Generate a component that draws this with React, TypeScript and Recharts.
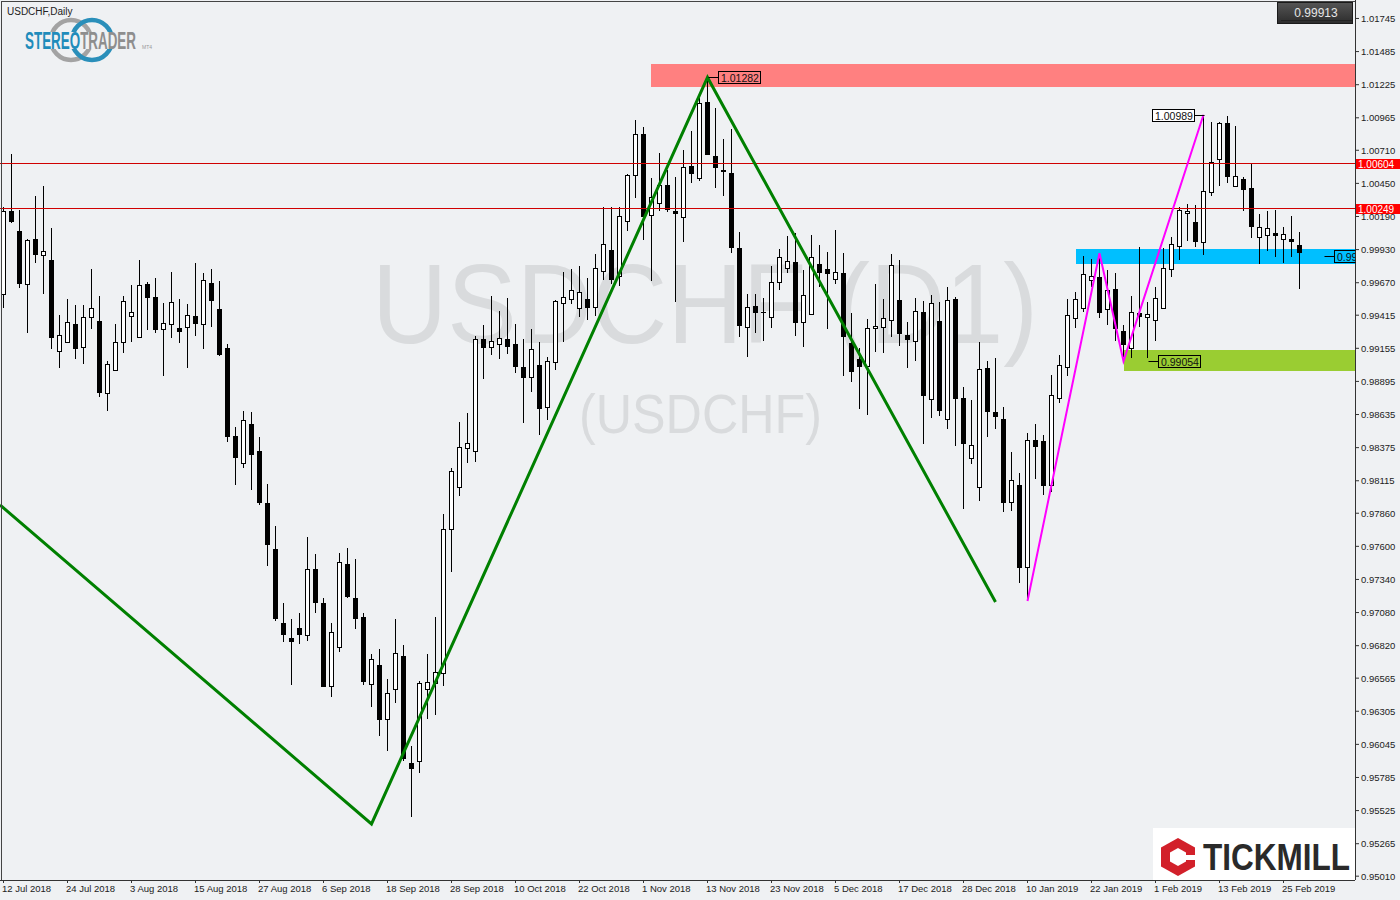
import React from 'react';
import {
  ComposedChart,
  Bar,
  Line,
  XAxis,
  YAxis,
  ReferenceArea,
  ReferenceLine,
  ReferenceDot,
} from 'recharts';

// USDCHF daily candles, 12 Jul 2018 .. 27 Feb 2019 (163 bars)
const opens = [
  0.99582, 1.00234, 1.00077, 0.99658, 1.00014, 0.99886, 0.99849, 0.99131, 0.99202, 0.99346,
  0.99163, 0.99398, 0.99367, 0.98802, 0.98984, 0.99202, 0.99406, 0.99247, 0.9966, 0.99556,
  0.99309, 0.99348, 0.99314, 0.99324, 0.99408, 0.99343, 0.99668, 0.99463, 0.99157, 0.98466,
  0.98252, 0.98561, 0.98349, 0.97938, 0.97579, 0.96996, 0.96878, 0.96957, 0.96902, 0.9742,
  0.97153, 0.96502, 0.96808, 0.97459, 0.97194, 0.97043, 0.96518, 0.96666, 0.96242, 0.9648,
  0.96739, 0.95902, 0.95915, 0.9648, 0.9653, 0.96604, 0.97736, 0.98069, 0.9837, 0.98351,
  0.9923, 0.99168, 0.99189, 0.99226, 0.99186, 0.99006, 0.98928, 0.99024, 0.98692, 0.9905,
  0.99508, 0.99541, 0.99469, 0.99541, 0.99481, 0.99765, 0.99927, 0.99726, 1.00155, 1.00516,
  1.00838, 1.00202, 1.00294, 1.00438, 1.00234, 1.00184, 1.00587, 1.0049, 1.01089, 1.00665,
  1.00555, 1.0053, 0.99941, 0.9932, 0.99487, 0.9944, 0.99398, 0.99674, 0.99784, 0.99836,
  0.99359, 0.99422, 0.99818, 0.99776, 0.99698, 0.99749, 0.99194, 0.99069, 0.99019, 0.99312,
  0.99324, 0.99377, 0.99534, 0.99259, 0.9921, 0.9944, 0.98755, 0.99367, 0.98597, 0.99543,
  0.98765, 0.98291, 0.98069, 0.99, 0.98652, 0.986, 0.97951, 0.98082, 0.97436, 0.98435,
  0.98427, 0.98082, 0.98762, 0.99008, 0.9939, 0.99469, 0.9969, 0.99714, 0.99461, 0.99619,
  0.99291, 0.99155, 0.9943, 0.99403, 0.99377, 0.99474, 0.99776, 0.99961, 1.00216, 1.00145,
  0.99993, 1.00385, 1.00639, 1.00922, 1.0043, 1.00482, 1.00413, 1.00027, 1.00045, 1.00059,
  1.00011, 1.00011, 0.99964,
];
const highs = [
  1.00267, 1.00681, 1.00242, 1.00011, 1.00351, 1.0043, 1.001, 0.99416, 0.99543, 0.99495,
  0.99495, 0.99778, 0.99566, 0.99055, 0.99346, 0.99566, 0.99652, 0.99849, 0.99674, 0.99705,
  0.99508, 0.99755, 0.99543, 0.995, 0.99825, 0.99747, 0.99778, 0.99684, 0.99189, 0.98537,
  0.98663, 0.98655, 0.98458, 0.98089, 0.97758, 0.97153, 0.97027, 0.97075, 0.97671, 0.97538,
  0.97194, 0.97001, 0.97546, 0.97587, 0.97501, 0.97077, 0.96755, 0.96794, 0.96559, 0.9703,
  0.96826, 0.96035, 0.96543, 0.96755, 0.97048, 0.97854, 0.98218, 0.98574, 0.98645, 0.99251,
  0.99338, 0.99566, 0.99448, 0.9955, 0.99346, 0.99228, 0.99306, 0.99207, 0.99089, 0.99534,
  0.99753, 0.99778, 0.99804, 0.99705, 0.99896, 1.00267, 1.00263, 1.00263, 1.00522, 1.00948,
  1.00895, 1.0049, 1.00687, 1.00555, 1.00503, 1.00712, 1.00862, 1.01118, 1.01282, 1.0104,
  1.00799, 1.00875, 1.00066, 0.99582, 0.99585, 0.99553, 0.99802, 0.99933, 1.00037, 1.00059,
  0.9977, 1.00045, 0.99967, 0.9991, 1.00084, 0.99902, 0.9943, 0.99155, 0.99385, 0.9966,
  0.99543, 0.99896, 0.99849, 0.99364, 0.9955, 0.99529, 0.99574, 0.99516, 0.99635, 0.99561,
  0.98849, 0.98749, 0.99204, 0.99055, 0.99079, 0.98694, 0.98341, 0.98178, 0.9849, 0.98561,
  0.98474, 0.98945, 0.99102, 0.99543, 0.99594, 0.9988, 0.99857, 0.99902, 0.9977, 0.99744,
  0.99338, 0.99569, 0.99949, 0.99521, 0.99635, 0.99941, 1.00032, 1.00263, 1.00289, 1.00281,
  1.00989, 1.00935, 1.00932, 1.00979, 1.00901, 1.00503, 1.00608, 1.00208, 1.00234, 1.00242,
  1.0011, 1.00192, 1.00066,
];
const lows = [
  0.99471, 1.00142, 0.99627, 0.99273, 0.99828, 0.9958, 0.99152, 0.99003, 0.99196, 0.99073,
  0.9903, 0.99309, 0.98775, 0.98665, 0.9898, 0.99116, 0.99207, 0.99243, 0.99298, 0.99277,
  0.9894, 0.99238, 0.99199, 0.99003, 0.99251, 0.99152, 0.99324, 0.99097, 0.98422, 0.98081,
  0.98218, 0.98042, 0.97925, 0.97448, 0.97017, 0.96852, 0.96512, 0.96831, 0.9686, 0.97079,
  0.96498, 0.96416, 0.96773, 0.97197, 0.96951, 0.96512, 0.96341, 0.96114, 0.95996, 0.9637,
  0.95915, 0.95472, 0.95819, 0.96242, 0.96276, 0.96504, 0.97401, 0.97998, 0.98252, 0.98265,
  0.98916, 0.99102, 0.99071, 0.9911, 0.98964, 0.98568, 0.98815, 0.98474, 0.98592, 0.98984,
  0.99202, 0.995, 0.99398, 0.99377, 0.99408, 0.99692, 0.9966, 0.99648, 1.00077, 1.00333,
  1.00006, 0.9968, 1.00236, 1.00223, 0.99521, 0.99993, 1.00451, 1.00472, 1.00673, 1.00417,
  1.00351, 0.99907, 0.99241, 0.99084, 0.99277, 0.99214, 0.99312, 0.99613, 0.99749, 0.99254,
  0.99168, 0.99415, 0.99639, 0.99304, 0.99658, 0.9894, 0.98893, 0.98676, 0.98631, 0.99128,
  0.99116, 0.99241, 0.99173, 0.98998, 0.99059, 0.98404, 0.9861, 0.98626, 0.98519, 0.98391,
  0.97893, 0.98249, 0.97959, 0.98461, 0.98524, 0.97872, 0.97878, 0.97315, 0.97171, 0.98129,
  0.98003, 0.9803, 0.98723, 0.9894, 0.99317, 0.99442, 0.99639, 0.99395, 0.99338, 0.99214,
  0.99054, 0.99077, 0.9932, 0.99077, 0.99214, 0.99469, 0.99718, 0.99849, 1.00001, 0.99954,
  0.99888, 1.00351, 1.0043, 1.00451, 1.00428, 1.00234, 1.00019, 0.99815, 0.99922, 0.99875,
  0.99828, 0.99875, 0.99619,
];
const closes = [
  1.00234, 1.00158, 0.99671, 1.00009, 0.99894, 0.9992, 0.99246, 0.99257, 0.99359, 0.9916,
  0.99398, 0.99469, 0.98815, 0.99029, 0.99202, 0.99524, 0.99437, 0.9965, 0.99554, 0.99309,
  0.99351, 0.99516, 0.99293, 0.99414, 0.99356, 0.9969, 0.99537, 0.99113, 0.98469, 0.98304,
  0.98592, 0.98328, 0.97946, 0.97616, 0.9704, 0.96914, 0.9686, 0.9691, 0.9742, 0.97166,
  0.96506, 0.96926, 0.9748, 0.97213, 0.9704, 0.96539, 0.96714, 0.96242, 0.96447, 0.96761,
  0.95936, 0.95858, 0.96527, 0.96535, 0.96614, 0.97736, 0.98192, 0.98378, 0.98411, 0.9923,
  0.99168, 0.99215, 0.99236, 0.99176, 0.99019, 0.98928, 0.99147, 0.98684, 0.99055, 0.99526,
  0.99557, 0.99612, 0.99596, 0.99477, 0.99784, 0.99972, 0.99698, 1.00192, 1.00516, 1.00838,
  1.00197, 1.00341, 1.00438, 1.00249, 1.0022, 1.00577, 1.00535, 1.01079, 1.00684, 1.00577,
  1.00547, 0.99954, 0.99338, 0.99481, 0.99437, 0.99437, 0.99674, 0.9987, 0.99839, 0.99359,
  0.99572, 0.9987, 0.99757, 0.99745, 0.99753, 0.99254, 0.98979, 0.99019, 0.99312, 0.99327,
  0.9939, 0.9981, 0.99273, 0.9923, 0.99445, 0.98791, 0.99508, 0.98673, 0.99532, 0.98763,
  0.98414, 0.98396, 0.9899, 0.98665, 0.98626, 0.97951, 0.98119, 0.9744, 0.98433, 0.9839,
  0.98082, 0.98788, 0.99024, 0.99414, 0.99541, 0.99737, 0.99721, 0.99442, 0.99613, 0.99312,
  0.99186, 0.99442, 0.99411, 0.99422, 0.99553, 0.99784, 0.99974, 1.00242, 1.00234, 1.00001,
  1.0039, 1.00616, 1.00928, 1.00508, 1.00506, 1.00404, 1.00118, 1.00106, 1.00098, 1.00048,
  1.00051, 1.00001, 0.99913,
];

const dateLabels = [
  '12 Jul 2018', '24 Jul 2018', '3 Aug 2018', '15 Aug 2018', '27 Aug 2018', '6 Sep 2018',
  '18 Sep 2018', '28 Sep 2018', '10 Oct 2018', '22 Oct 2018', '1 Nov 2018', '13 Nov 2018',
  '23 Nov 2018', '5 Dec 2018', '17 Dec 2018', '28 Dec 2018', '10 Jan 2019', '22 Jan 2019',
  '1 Feb 2019', '13 Feb 2019', '25 Feb 2019',
];
const dateTicks = dateLabels.map((_, k) => k * 8);

const priceTicks = [
  1.01745, 1.01485, 1.01225, 1.00965, 1.0071, 1.0045, 1.0019, 0.9993, 0.9967, 0.99415,
  0.99155, 0.98895, 0.98635, 0.98375, 0.98115, 0.9786, 0.976, 0.9734, 0.9708, 0.9682,
  0.96565, 0.96305, 0.96045, 0.95785, 0.95525, 0.95265, 0.9501,
];

// drawn waves (bar index, price)
const greenWave = [
  { i: -0.4375, v: 0.97925 },
  { i: 46, v: 0.9542 },
  { i: 88, v: 1.01282 },
  { i: 124, v: 0.97163 },
];
const pinkWave = [
  { i: 128, v: 0.97171 },
  { i: 137, v: 0.99902 },
  { i: 140, v: 0.99054 },
  { i: 150, v: 1.00989 },
];

const candles = opens.map((o, i) => ({
  i,
  open: o,
  high: highs[i],
  low: lows[i],
  close: closes[i],
  range: [lows[i], highs[i]],
}));

const FONT = "'Liberation Sans', Arial, sans-serif";

const Candle = (props: any) => {
  const { x, y, width, height, payload } = props;
  if (!payload || x == null) return null;
  const { open, close, high, low } = payload;
  const top = Math.min(y, y + height);
  const h = Math.abs(height);
  const span = high - low;
  const toY = (v: number) => (span > 0 ? top + ((high - v) / span) * h : top);
  const cx = Math.round(x + width / 2 - 0.5) + 0.5;
  const yo = toY(open);
  const yc = toY(close);
  const bTop = Math.round(Math.min(yo, yc)) + 0.5;
  const bBot = Math.round(Math.max(yo, yc)) + 0.5;
  const up = close >= open;
  return (
    <g>
      <line x1={cx} x2={cx} y1={Math.round(top)} y2={Math.round(top + h)} stroke="#000" strokeWidth={1} />
      {bBot - bTop < 1 ? (
        <line x1={cx - 2.5} x2={cx + 2.5} y1={bTop} y2={bTop} stroke="#000" strokeWidth={1} />
      ) : (
        <rect x={cx - 2} y={bTop} width={4} height={bBot - bTop} fill={up ? '#fff' : '#000'} stroke="#000" strokeWidth={1} />
      )}
    </g>
  );
};

const DateTick = (props: any) => {
  const { x, y, payload } = props;
  return (
    <text x={x - 1.5} y={y + 7} fontSize={9.5} fill="#222" fontFamily={FONT} textAnchor="start">
      {dateLabels[Math.round(payload.value / 8)]}
    </text>
  );
};

const PriceTick = (props: any) => {
  const { x, y, payload } = props;
  return (
    <text x={x} y={y + 3.5} fontSize={9.5} fill="#222" fontFamily={FONT} textAnchor="start">
      {Number(payload.value).toFixed(5)}
    </text>
  );
};

const AxisTag = (props: any) => {
  const { viewBox, text } = props;
  if (!viewBox) return null;
  const x = viewBox.x + viewBox.width + 1;
  const y = Math.round(viewBox.y);
  return (
    <g>
      <rect x={x} y={y - 5} width={44} height={10} fill="#FF0000" />
      <text x={x + 2} y={y + 4} fill="#fff" fontSize={10} fontFamily={FONT}>
        {text}
      </text>
    </g>
  );
};

// small price boxes attached to chart points
const PriceBox = (props: any) => {
  const { cx, cy, text, side, fill, clipW } = props;
  if (cx == null) return null;
  const px = Math.round(cx) + 0.5;
  const py = Math.round(cy) + 0.5;
  const bw = 42;
  const bx = side === 'left' ? px - 10 - bw : px + 10;
  const clipId = clipW ? 'clip-' + text.replace('.', '') : undefined;
  return (
    <g clipPath={clipId ? `url(#${clipId})` : undefined}>
      {clipId && (
        <defs>
          <clipPath id={clipId}>
            <rect x={px - 1} y={py - 10} width={clipW} height={20} />
          </clipPath>
        </defs>
      )}
      <line x1={px} x2={side === 'left' ? bx + bw : bx} y1={py} y2={py} stroke="#000" strokeWidth={1} />
      <rect x={bx} y={py - 6} width={bw} height={12} fill={fill} stroke="#000" strokeWidth={1} />
      <text x={bx + 2.5} y={py + 4} fontSize={10.5} fill="#111" fontFamily={FONT}>
        {text}
      </text>
    </g>
  );
};

const Overlay = () => (
  <svg width={1400} height={900} style={{ position: 'absolute', left: 0, top: 0, zIndex: 2, pointerEvents: 'none' }}>
    <defs>
      <linearGradient id="pxbox" x1="0" y1="0" x2="0" y2="1">
        <stop offset="0" stopColor="#555" />
        <stop offset="1" stopColor="#2c2c2c" />
      </linearGradient>
    </defs>
    <rect x={1} y={1} width={1354} height={1} fill="#444" />
    <rect x={1} y={1} width={1} height={879} fill="#444" />
    <text x={7} y={15} fontSize={10} fill="#222" fontFamily={FONT}>USDCHF,Daily</text>
    {/* StereoTrader logo */}
    <circle cx={71} cy={40} r={20} fill="none" stroke="#A3A3A3" strokeWidth={4.5} />
    <circle cx={92} cy={40} r={20} fill="none" stroke="#2A8FBA" strokeWidth={4.5} />
    <rect x={24} y={32} width={114} height={17} fill="#EFF1F3" />
    <text x={25} y={49} fontSize={23} fontWeight="bold" fontFamily="'Liberation Sans Narrow', 'Liberation Sans', Arial" textLength={111} lengthAdjust="spacingAndGlyphs">
      <tspan fill="#1F8CBB">STEREO</tspan>
      <tspan fill="#8E8E8E">TRADER</tspan>
    </text>
    <text x={142} y={49} fontSize={5} fill="#999" fontFamily={FONT}>MT4</text>
    {/* current price box */}
    <rect x={1277.5} y={2.5} width={75} height={21} fill="url(#pxbox)" stroke="#1a1a1a" />
    <line x1={1281} x2={1352} y1={20.5} y2={20.5} stroke="#222" />
    <text x={1316} y={17} fontSize={12} fill="#e6e6e6" fontFamily={FONT} textAnchor="middle">0.99913</text>
    {/* Tickmill logo */}
    <rect x={1153} y={828} width={202} height={52} fill="#fff" />
    <polygon points="1178,838 1195,847.5 1195,866.5 1178,876 1161,866.5 1161,847.5" fill="#D2202A" />
    <polygon points="1178,848 1186,852.5 1186,861.5 1178,866 1170,861.5 1170,852.5" fill="#fff" />
    <rect x={1178} y={855} width={18} height={5} fill="#fff" />
    <text x={1203} y={870} fontSize={36} fontWeight="bold" fill="#2A2A2A" fontFamily={FONT} textLength={147} lengthAdjust="spacingAndGlyphs">TICKMILL</text>
  </svg>
);

const Watermark = () => (
  <svg width={1400} height={900} style={{ position: 'absolute', left: 0, top: 0, zIndex: 0 }}>
    <text x={372} y={343} fontSize={114} fill="#D9DBDD" fontFamily={FONT} textLength={666} lengthAdjust="spacingAndGlyphs">
      USDCHF (D1)
    </text>
    <text x={579} y={433} fontSize={56} fill="#D9DBDD" fontFamily={FONT} textLength={243} lengthAdjust="spacingAndGlyphs">
      (USDCHF)
    </text>
  </svg>
);

export default function App() {
  return (
    <div style={{ position: 'absolute', left: 0, top: 0, width: 1400, height: 900, background: '#EFF1F3', overflow: 'hidden' }}>
      <Watermark />
      <div style={{ position: 'absolute', left: 0, top: 0, zIndex: 1 }}>
        <ComposedChart width={1400} height={900} data={candles} margin={{ top: 0, right: 0, bottom: 0, left: 0 }}>
          <XAxis
            dataKey="i"
            type="number"
            domain={[-0.4375, 168.9375]}
            allowDataOverflow
            ticks={dateTicks}
            interval={0}
            height={20}
            tickSize={3}
            tickMargin={2}
            tick={<DateTick />}
            axisLine={{ stroke: '#333', shapeRendering: 'crispEdges' }}
            tickLine={{ stroke: '#333' }}
          />
          <YAxis
            orientation="right"
            type="number"
            domain={[0.9498, 1.0189]}
            allowDataOverflow
            ticks={priceTicks}
            interval={0}
            width={45}
            tickSize={4}
            tickMargin={2}
            tick={<PriceTick />}
            axisLine={{ stroke: '#333', shapeRendering: 'crispEdges' }}
            tickLine={{ stroke: '#333' }}
          />
          <ReferenceArea x1={81} x2={168.9} y1={1.01209} y2={1.01387} fill="#FF8080" fillOpacity={1} stroke="none" shapeRendering="crispEdges" />
          <ReferenceArea x1={134} x2={168.9} y1={0.99817} y2={0.99935} fill="#00BFFF" fillOpacity={1} stroke="none" shapeRendering="crispEdges" />
          <ReferenceArea x1={140} x2={168.9} y1={0.98977} y2={0.99142} fill="#9ACD32" fillOpacity={1} stroke="none" shapeRendering="crispEdges" />
          <ReferenceLine y={1.00604} stroke="#D00000" strokeWidth={1} shapeRendering="crispEdges" label={<AxisTag text="1.00604" />} />
          <ReferenceLine y={1.00249} stroke="#D00000" strokeWidth={1} shapeRendering="crispEdges" label={<AxisTag text="1.00249" />} />
          <Bar dataKey="range" barSize={5} shape={Candle} isAnimationActive={false} />
          <Line data={greenWave} dataKey="v" type="linear" stroke="#008000" strokeWidth={3} dot={false} isAnimationActive={false} />
          <Line data={pinkWave} dataKey="v" type="linear" stroke="#FF00FF" strokeWidth={2} dot={false} isAnimationActive={false} />
          <ReferenceDot x={88} y={1.01282} r={0} shape={(p: any) => <PriceBox {...p} text="1.01282" side="right" fill="none" />} />
          <ReferenceDot x={150} y={1.00989} r={0} shape={(p: any) => <PriceBox {...p} text="1.00989" side="left" fill="#fff" />} />
          <ReferenceDot x={143} y={0.99054} r={0} shape={(p: any) => <PriceBox {...p} text="0.99054" side="right" fill="none" />} />
          <ReferenceDot x={165} y={0.99876} r={0} shape={(p: any) => <PriceBox {...p} text="0.99876" side="right" fill="none" clipW={32} />} />
        </ComposedChart>
      </div>
      <Overlay />
    </div>
  );
}
